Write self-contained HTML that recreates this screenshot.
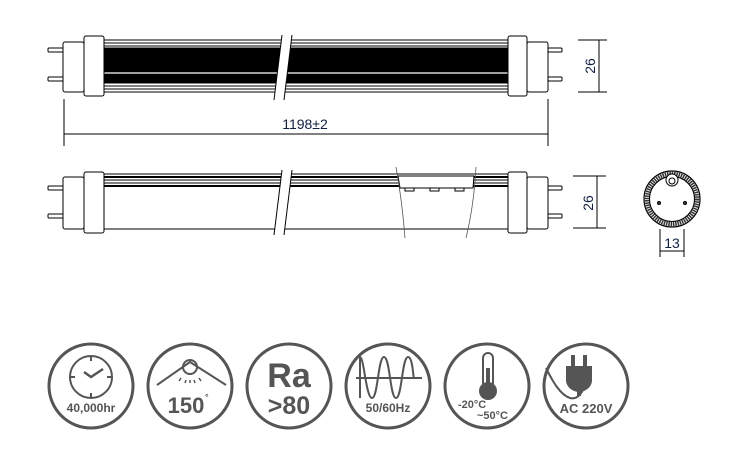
<!DOCTYPE html>
<html><head><style>body{margin:0;background:#fff}svg{display:block}</style></head><body>
<svg width="735" height="449" viewBox="0 0 735 449" xmlns="http://www.w3.org/2000/svg" font-family="Liberation Sans, Arial, sans-serif">
<g stroke="#000" fill="none" stroke-width="1">
<rect x="104" y="40" width="405" height="52" fill="#fff"/>
<rect x="104" y="48" width="405" height="35" fill="#000"/>
<line x1="104" y1="73" x2="509" y2="73" stroke="#fff" stroke-width="1.2"/>
<line x1="104" y1="43" x2="509" y2="43"/><line x1="104" y1="46" x2="509" y2="46"/>
<line x1="104" y1="86" x2="509" y2="86"/><line x1="104" y1="89" x2="509" y2="89"/>
<polygon points="282,35 292,35 284,100 274,100" fill="#fff" stroke="none"/>
<line x1="282" y1="35" x2="274" y2="100"/><line x1="292" y1="35" x2="284" y2="100"/>
<rect x="48" y="48" width="16" height="4" rx="1" fill="#fff"/><rect x="48" y="77" width="16" height="4" rx="1" fill="#fff"/>
<rect x="63" y="42" width="21" height="50" rx="2" fill="#fff"/>
<rect x="84" y="36" width="20" height="60" rx="2" fill="#fff"/>
<rect x="548" y="48" width="14" height="4" rx="1" fill="#fff"/><rect x="548" y="77" width="14" height="4" rx="1" fill="#fff"/>
<rect x="527" y="42" width="21" height="50" rx="2" fill="#fff"/>
<rect x="508" y="36" width="19" height="60" rx="2" fill="#fff"/>
<line x1="64" y1="99" x2="64" y2="146"/><line x1="548" y1="99" x2="548" y2="146"/>
<line x1="64" y1="134" x2="548" y2="134"/>
<line x1="578" y1="40" x2="607" y2="40"/><line x1="578" y1="92" x2="607" y2="92"/><line x1="599" y1="40" x2="599" y2="92"/>

<rect x="104" y="174" width="405" height="55" fill="#fff"/>
<line x1="104" y1="177" x2="509" y2="177" stroke-width="2"/><line x1="104" y1="180" x2="509" y2="180"/>
<line x1="104" y1="183" x2="509" y2="183"/><line x1="104" y1="186" x2="509" y2="186" stroke-width="2"/>
<polygon points="282,170 292,170 284,235 274,235" fill="#fff" stroke="none"/>
<line x1="282" y1="170" x2="274" y2="235"/><line x1="292" y1="170" x2="284" y2="235"/>
<polygon points="398,176 474,176 473,188 400,188" fill="#fff"/>
<rect x="405" y="188" width="9" height="3" fill="#fff"/><rect x="430" y="188" width="9" height="3" fill="#fff"/><rect x="455" y="188" width="9" height="3" fill="#fff"/>
<path d="M396,167 Q402,200 405,238" stroke="#555" stroke-width="0.8"/>
<path d="M476,167 Q474,205 466,238" stroke="#555" stroke-width="0.8"/>
<rect x="48" y="186" width="16" height="4" rx="1" fill="#fff"/><rect x="48" y="214" width="16" height="4" rx="1" fill="#fff"/>
<rect x="63" y="177" width="21" height="52" rx="2" fill="#fff"/>
<rect x="84" y="172" width="20" height="61" rx="2" fill="#fff"/>
<rect x="548" y="186" width="14" height="4" rx="1" fill="#fff"/><rect x="548" y="214" width="14" height="4" rx="1" fill="#fff"/>
<rect x="527" y="177" width="21" height="52" rx="2" fill="#fff"/>
<rect x="508" y="172" width="19" height="61" rx="2" fill="#fff"/>
<line x1="573" y1="176" x2="606" y2="176"/><line x1="573" y1="228" x2="606" y2="228"/><line x1="597" y1="176" x2="597" y2="228"/>

<circle cx="672" cy="199" r="28" stroke-width="1.2"/>
<circle cx="672" cy="199" r="25" stroke="#333" stroke-width="4.5" stroke-dasharray="1.5 0.8"/>
<circle cx="672" cy="199" r="22.5"/>
<circle cx="672" cy="180" r="6" fill="#fff"/><circle cx="672" cy="181" r="3"/>
<circle cx="659" cy="203" r="1.5" fill="#444"/><circle cx="685" cy="203" r="1.5" fill="#444"/>
<line x1="660" y1="229" x2="660" y2="257"/><line x1="684" y1="229" x2="684" y2="257"/><line x1="660" y1="251" x2="684" y2="251"/>
</g>
<g fill="#102040" font-size="14">
<text x="305" y="129" text-anchor="middle">1198±2</text>
<text transform="translate(595,66) rotate(-90)" text-anchor="middle">26</text>
<text transform="translate(593,203) rotate(-90)" text-anchor="middle">26</text>
<text x="672" y="248" text-anchor="middle">13</text>
</g>

<g stroke="#555" fill="none" stroke-width="3">
<circle cx="91" cy="386" r="42"/><circle cx="190" cy="386" r="42"/><circle cx="289" cy="386" r="42"/>
<circle cx="388" cy="386" r="42"/><circle cx="487" cy="386" r="42"/><circle cx="586" cy="386" r="42"/>
<circle cx="91" cy="377" r="21" stroke-width="2"/>
<line x1="91" y1="357" x2="91" y2="361" stroke-width="2"/><line x1="91" y1="393" x2="91" y2="397" stroke-width="2"/>
<line x1="71" y1="377" x2="75" y2="377" stroke-width="2"/><line x1="107" y1="377" x2="111" y2="377" stroke-width="2"/>
<path d="M84,372 L91,377 L103,369" stroke-width="2.5"/>
<circle cx="190" cy="367" r="7" stroke-width="2"/>
<path d="M157,385 L190,362 L226,385" stroke-width="2"/>
<path d="M181,378 l-2,3 M186,380 l-1,3 M190,380 v3 M194,380 l1,3 M199,378 l2,3" stroke-width="1.5"/>
<line x1="356" y1="378" x2="422" y2="378" stroke-width="2"/>
<path d="M360,398 L360,357 C364,357 366,398 372,398 C378,398 378,357 384,357 C390,357 390,398 396,398 C402,398 402,357 408,357 C413,357 413,378 414,378" stroke-width="2"/>
<path d="M483,384 V358 a5,5 0 0 1 10,0 V384" stroke-width="2"/>
<circle cx="488" cy="391" r="8" stroke-width="2" fill="#555"/>
<rect x="486" y="368" width="4" height="20" fill="#555" stroke="none"/>
<path d="M546,368 C552,380 560,395 570,398 C578,400 582,392 584,388" stroke-width="2"/>
</g>
<g fill="#555">
<rect x="571" y="355" width="4" height="12"/><rect x="583" y="355" width="4" height="12"/>
<path d="M566,366 H592 V380 C592,388 584,392 579,392 C574,392 566,388 566,380 Z"/>
<rect x="577" y="390" width="4" height="6"/>
</g>
<g fill="#555" font-weight="bold" font-family="Liberation Sans, Arial, sans-serif">
<text x="91" y="412" font-size="12" text-anchor="middle">40,000hr</text>
<text x="186" y="413" font-size="22" text-anchor="middle">150</text>
<text x="205" y="400" font-size="9">°</text>
<text x="289" y="387" font-size="34" text-anchor="middle">Ra</text>
<text x="289" y="414" font-size="25" text-anchor="middle">&gt;80</text>
<text x="388" y="412" font-size="12" text-anchor="middle">50/60Hz</text>
<text x="458" y="408" font-size="11">-20°C</text>
<text x="477" y="419" font-size="11">~50°C</text>
<text x="586" y="413" font-size="13" text-anchor="middle">AC 220V</text>
</g>
</svg>
</body></html>
